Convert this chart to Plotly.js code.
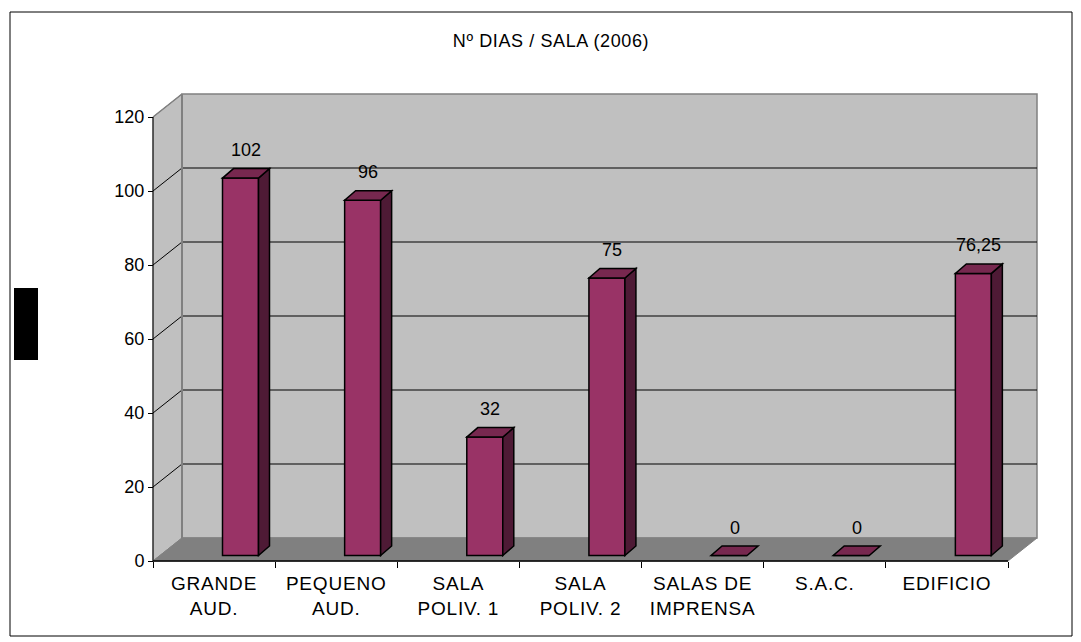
<!DOCTYPE html>
<html><head><meta charset="utf-8">
<script src="https://cdn.plot.ly/plotly-3.0.1.min.js"></script>
<style>
body{margin:0;background:#fff}
.xtick text{letter-spacing:0.8px}
.gtitle{letter-spacing:0.6px}
</style>
</head><body><div id="chart" style="width:1081px;height:642px"></div>
<script>
// ---- data ----
const categories = ["GRANDE<br>AUD.", "PEQUENO<br>AUD.", "SALA<br>POLIV. 1", "SALA<br>POLIV. 2", "SALAS DE<br>IMPRENSA", "S.A.C.", "EDIFICIO"];
const values = [102, 96, 32, 75, 0, 0, 76.25];
const valueLabels = ["102", "96", "32", "75", "0", "0", "76,25"];
const yTicks = [0, 20, 40, 60, 80, 100, 120];
const titleText = "Nº DIAS / SALA (2006)";

// ---- geometry (pixels) ----
const W = 1081, H = 642;
const FX0 = 153, FX1 = 1008, FY0 = 561;
const PPU = 3.7;
const WALL_DX = 29, WALL_DY = 23;
const BAR_DX = 7, BAR_DY = 5.5;
const BAR_LEFT = 69.5, BAR_W = 36;
const DEPTH_DX = 11, DEPTH_DY = 9.5;
const PAD = 6;
const FONT = "Liberation Sans, Arial, sans-serif";

const n = categories.length;
const yMax = yTicks[yTicks.length - 1];
const catPx = (FX1 - FX0) / n;
const plotX1 = FX1 + WALL_DX;
const plotTop = FY0 - WALL_DY - yMax * PPU;
const ux = px => px / catPx, uy = px => px / PPU;

const xLo = -0.5 - ux(PAD), xHi = -0.5 + ux(plotX1 - FX0 + PAD);
const yLo = -uy(PAD), yHi = uy(FY0 - plotTop + PAD);
const dom = (a, b) => [a / W, b / W];
const domY = (top, bot) => [1 - bot / H, 1 - top / H];

const xs = categories.map((c, i) => i);
const bounds = categories.map((c, i) => i - 0.5).concat([n - 0.5]);

const wdx = ux(WALL_DX), wdy = uy(WALL_DY);
const bx0 = -0.5 + wdx, bx1 = n - 0.5 + wdx;

const shapes = [];
// left wall
shapes.push({type:'path', xref:'x', yref:'y', layer:'below',
  path:`M-0.5,0 L-0.5,${yMax} L${bx0},${yMax+wdy} L${bx0},${wdy} Z`,
  fillcolor:'#C0C0C0', line:{color:'#808080', width:1}});
// back wall
shapes.push({type:'rect', xref:'x', yref:'y', layer:'below',
  x0:bx0, x1:bx1, y0:wdy, y1:yMax+wdy, fillcolor:'#C0C0C0', line:{color:'#808080', width:1.5}});
// floor
shapes.push({type:'path', xref:'x', yref:'y', layer:'below',
  path:`M-0.5,0 L${n-0.5},0 L${bx1},${wdy} L${bx0},${wdy} Z`,
  fillcolor:'#808080', line:{color:'#808080', width:1}});
// gridlines
yTicks.forEach(v => {
  if (v <= 0) return;
  const col = v === yMax ? '#808080' : '#000000';
  const wdt = v === yMax ? 1.5 : 1;
  if (v < yMax) shapes.push({type:'line', xref:'x', yref:'y', layer:'below',
    x0:bx0, x1:bx1, y0:v+wdy, y1:v+wdy, line:{color:col, width:wdt}});
  shapes.push({type:'line', xref:'x', yref:'y', layer:'below',
    x0:-0.5, x1:bx0, y0:v, y1:v+wdy, line:{color:col, width:wdt}});
});
// back-left vertical edge
shapes.push({type:'line', xref:'x', yref:'y', layer:'below',
  x0:bx0, x1:bx0, y0:wdy, y1:yMax+wdy, line:{color:'#808080', width:2}});
// axis lines
shapes.push({type:'line', xref:'x', yref:'y', layer:'below',
  x0:-0.5, x1:-0.5, y0:0, y1:yMax, line:{color:'#000', width:1}});
shapes.push({type:'line', xref:'x', yref:'y', layer:'below',
  x0:-0.5, x1:n-0.5, y0:0, y1:0, line:{color:'#000', width:1.5}});

// bars 3D faces
const off = ux(BAR_LEFT - BAR_DX) - 0.5;
const bw = ux(BAR_W);
const ddx = ux(DEPTH_DX), ddy = uy(DEPTH_DY);
values.forEach((v, i) => {
  const L = i + off, R = L + bw;
  if (v > 0) shapes.push({type:'path', xref:'x2', yref:'y2', layer:'above',
    path:`M${R},0 L${R+ddx},${ddy} L${R+ddx},${v+ddy} L${R},${v} Z`,
    fillcolor:'#4E1A35', line:{color:'#000', width:1.5}});
  shapes.push({type:'path', xref:'x2', yref:'y2', layer:'above',
    path:`M${L},${v} L${R},${v} L${R+ddx},${v+ddy} L${L+ddx},${v+ddy} Z`,
    fillcolor:'#77284F', line:{color:'#000', width:1.5}});
});

// frame + black block (paper px)
shapes.push({type:'rect', xref:'paper', yref:'paper', x0:10/W, x1:1072/W, y0:1-636/H, y1:1-12/H,
  line:{color:'#000', width:1}, fillcolor:'rgba(0,0,0,0)'});
shapes.push({type:'rect', xref:'paper', yref:'paper', x0:14/W, x1:38/W, y0:1-360/H, y1:1-288/H,
  line:{width:0}, fillcolor:'#000'});

const annotations = values.map((v, i) => ({
  xref:'x2', yref:'y2', x: i + off + bw/2 + ddx/2, y: v, yshift: 28,
  text: valueLabels[i], showarrow:false, font:{family:FONT, size:18, color:'#000'}
}));

const traces = [
  {type:'scatter', x:[], y:[], xaxis:'x', yaxis:'y', hoverinfo:'skip', showlegend:false},
  {type:'scatter', x:[], y:[], xaxis:'x3', yaxis:'y', hoverinfo:'skip', showlegend:false},
  {type:'bar', x:xs, y:values, xaxis:'x2', yaxis:'y2', offset:off, width:bw,
   marker:{color:'#993366', line:{color:'#000', width:1.5}}, hoverinfo:'skip', showlegend:false}
];

const layout = {
  width:W, height:H, margin:{l:0, r:0, t:0, b:0},
  paper_bgcolor:'#fff', plot_bgcolor:'rgba(0,0,0,0)', showlegend:false,
  font:{family:FONT, size:18, color:'#000'},
  title:{text:titleText, x:551/W, xanchor:'center', y:1-41/H, yanchor:'middle',
    font:{family:FONT, size:18, color:'#000'}},
  xaxis:{domain:dom(FX0-PAD, plotX1+PAD), range:[xLo, xHi], anchor:'free', position:1-FY0/H,
    tickmode:'array', tickvals:xs, ticktext:categories, ticks:'', ticklabelstandoff:9,
    showgrid:false, zeroline:false, showline:false, tickfont:{family:FONT, size:19}},
  xaxis3:{overlaying:'x', range:[xLo, xHi], anchor:'free', position:1-FY0/H,
    tickmode:'array', tickvals:bounds, ticks:'outside', ticklen:6, tickcolor:'#000', tickwidth:1,
    showticklabels:false, showgrid:false, zeroline:false, showline:false},
  yaxis:{domain:domY(plotTop-PAD, FY0+PAD), range:[yLo, yHi], anchor:'free', position:FX0/W,
    tickmode:'array', tickvals:yTicks, ticks:'outside', ticklen:5, tickcolor:'#000', tickwidth:1,
    showgrid:false, zeroline:false, showline:false, tickfont:{family:FONT, size:18}},
  xaxis2:{domain:dom(FX0-PAD+BAR_DX, plotX1+PAD+BAR_DX), range:[xLo, xHi], anchor:'y2', visible:false},
  yaxis2:{domain:domY(plotTop-PAD-BAR_DY, FY0+PAD-BAR_DY), range:[yLo, yHi], anchor:'x2', visible:false},
  shapes, annotations
};
Plotly.newPlot('chart', traces, layout, {staticPlot:true});
</script></body></html>
